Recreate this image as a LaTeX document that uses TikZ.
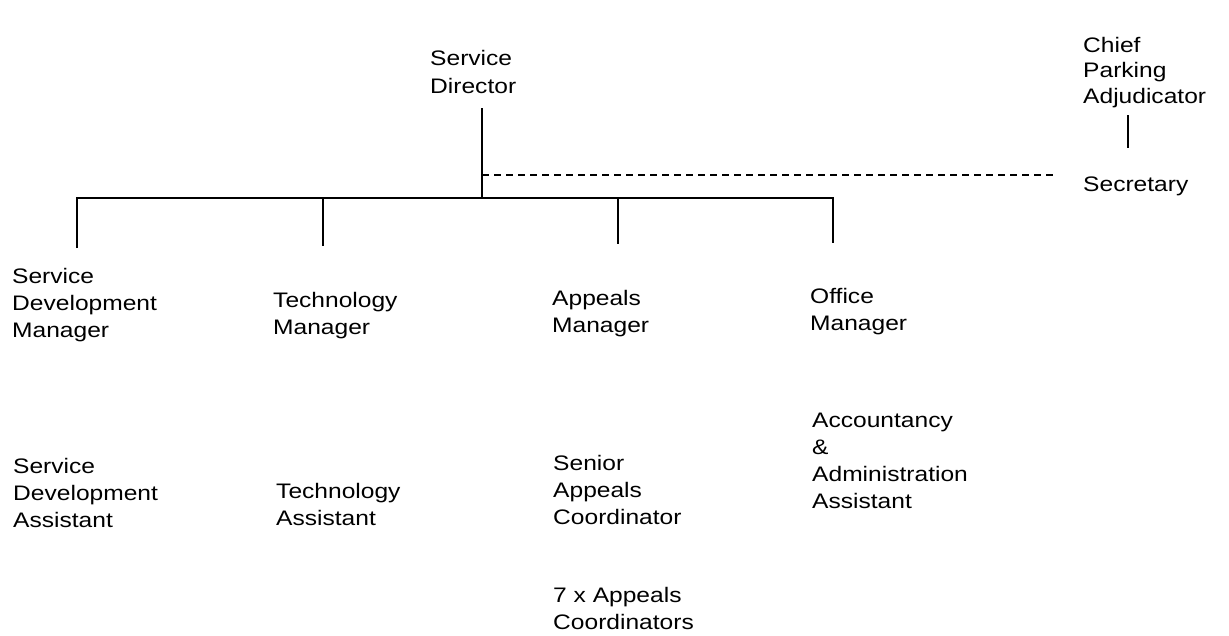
\documentclass[tikz,border=0pt]{standalone}
\usepackage{fontspec}
\setmainfont{Liberation Sans}[FakeStretch=1.17]
\begin{document}
\begin{tikzpicture}[x=1pt,y=-1pt,
  lbl/.style={anchor=north west,inner sep=0pt,align=left,font=\fontsize{21}{26.8}\selectfont},
  conn/.style={line width=1.5pt,line cap=butt},
  dotconn/.style={line width=1.5pt,dash pattern=on 7pt off 5pt}]
\useasboundingbox (0,0) rectangle (1229,635);
% nodes
\node[lbl,font=\fontsize{21}{28}\selectfont] (dir) at (430,50) {Service\\Director};
\node[lbl,font=\fontsize{21}{25.5}\selectfont] (cpa) at (1083,37) {Chief\\Parking\\Adjudicator};
\node[lbl] (sec) at (1083,177) {Secretary};
\node[lbl] (sdm) at (12,268) {Service\\Development\\Manager};
\node[lbl] (tm) at (273,292) {Technology\\Manager};
\node[lbl] (am) at (552,290) {Appeals\\Manager};
\node[lbl] (om) at (810,288) {Office\\Manager};
\node[lbl] (sda) at (13,458) {Service\\Development\\Assistant};
\node[lbl] (ta) at (276,483) {Technology\\Assistant};
\node[lbl] (sac) at (553,455) {Senior\\Appeals\\Coordinator};
\node[lbl] (ac) at (553,587) {7 x Appeals\\Coordinators};
\node[lbl] (aaa) at (812,413) {Accountancy\\\&\\Administration\\Assistant};
% coordinates
\coordinate (dtop) at (482,108);
\coordinate (bus) at (482,198);
\coordinate (dash0) at (482,175);
\coordinate (dash1) at (1053,175);
\coordinate (bl) at (77,198);
\coordinate (br) at (833,198);
\coordinate (d1) at (77,248);
\coordinate (d2t) at (323,198);
\coordinate (d2) at (323,246);
\coordinate (d3t) at (618,198);
\coordinate (d3) at (618,244);
\coordinate (d4) at (833,243);
\coordinate (ctop) at (1128,115);
\coordinate (cbot) at (1128,148);
% connectors
\draw[conn] (dtop) -- (bus);
\draw[conn] (d1) -- (bl) -- (br) -- (d4);
\draw[conn] (d2t) -- (d2);
\draw[conn] (d3t) -- (d3);
\draw[dotconn] (dash0) -- (dash1);
\draw[conn] (ctop) -- (cbot);
\end{tikzpicture}
\end{document}
